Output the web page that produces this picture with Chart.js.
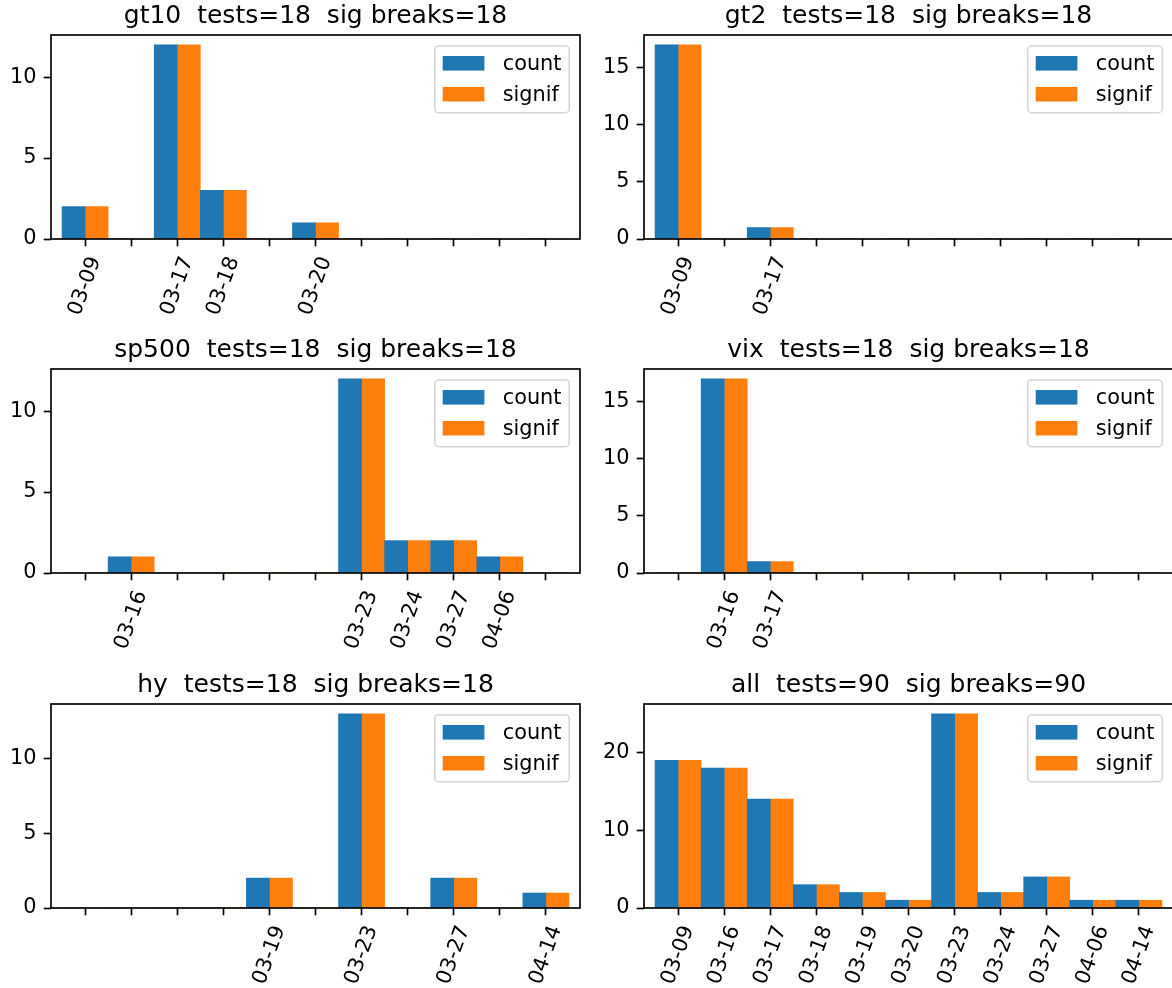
<!DOCTYPE html>
<html>
<head>
<meta charset="utf-8">
<script src="https://cdn.jsdelivr.net/npm/chart.js@4.4.0/dist/chart.umd.min.js"></script>
<style>
  html, body { margin: 0; padding: 0; background: #fff; }
  #fig { position: relative; width: 1172px; height: 988px; overflow: hidden; }
  #fig canvas { position: absolute; }
</style>
</head>
<body>
<div id="fig"></div>
<script>
// dates of the break tests (x categories)
const dates = ["03-09", "03-16", "03-17", "03-18", "03-19", "03-20", "03-23", "03-24", "03-27", "04-06", "04-14"];

const gt10Count   = [2, 0, 12, 3, 0, 1, 0, 0, 0, 0, 0];
const gt10Signif  = [2, 0, 12, 3, 0, 1, 0, 0, 0, 0, 0];
const gt2Count    = [17, 0, 1, 0, 0, 0, 0, 0, 0, 0, 0];
const gt2Signif   = [17, 0, 1, 0, 0, 0, 0, 0, 0, 0, 0];
const sp500Count  = [0, 1, 0, 0, 0, 0, 12, 2, 2, 1, 0];
const sp500Signif = [0, 1, 0, 0, 0, 0, 12, 2, 2, 1, 0];
const vixCount    = [0, 17, 1, 0, 0, 0, 0, 0, 0, 0, 0];
const vixSignif   = [0, 17, 1, 0, 0, 0, 0, 0, 0, 0, 0];
const hyCount     = [0, 0, 0, 0, 2, 0, 13, 0, 2, 0, 1];
const hySignif    = [0, 0, 0, 0, 2, 0, 13, 0, 2, 0, 1];
const allCount    = [19, 18, 14, 3, 2, 1, 25, 2, 4, 1, 1];
const allSignif   = [19, 18, 14, 3, 2, 1, 25, 2, 4, 1, 1];

const titles = [
  "gt10  tests=18  sig breaks=18",
  "gt2  tests=18  sig breaks=18",
  "sp500  tests=18  sig breaks=18",
  "vix  tests=18  sig breaks=18",
  "hy  tests=18  sig breaks=18",
  "all  tests=90  sig breaks=90"
];
const yTickSteps = [5, 5, 5, 5, 5, 10];

const BLUE = "#1f77b4";
const ORANGE = "#ff7f0e";
const FONT = "DejaVu Sans";

Chart.defaults.font.family = FONT;
Chart.defaults.color = "#000";

// axes frame, title and matplotlib-like legend
const framePlugin = {
  id: "frame",
  afterDraw(chart, args, opts) {
    const { ctx, chartArea: a } = chart;
    ctx.save();
    ctx.strokeStyle = "#000";
    ctx.lineWidth = 1.67;
    ctx.strokeRect(a.left, a.top, a.right - a.left, a.bottom - a.top);

    ctx.fillStyle = "#000";
    ctx.font = `25px "${FONT}"`;
    ctx.textAlign = "center";
    ctx.textBaseline = "alphabetic";
    ctx.fillText(opts.title, (a.left + a.right) / 2, a.top - 12.5);

    // legend box
    const bw = 134.6, bh = 66.7;
    const bx = a.right - 10.7 - bw, by = a.top + 11;
    ctx.beginPath();
    ctx.roundRect(bx, by, bw, bh, 4);
    ctx.fillStyle = "rgba(255,255,255,0.8)";
    ctx.fill();
    ctx.strokeStyle = "#d6d6d6";
    ctx.lineWidth = 1.6;
    ctx.stroke();

    ctx.font = `20.83px "${FONT}"`;
    ctx.textAlign = "left";
    ctx.textBaseline = "middle";
    chart.data.datasets.forEach((ds, k) => {
      const cy = by + 17.3 + k * 30.9;
      ctx.fillStyle = ds.backgroundColor;
      ctx.fillRect(bx + 8, cy - 7.3, 41.7, 14.6);
      ctx.fillStyle = "#000";
      ctx.fillText(ds.label, bx + 68, cy + 1);
    });
    ctx.restore();
  }
};

function makePanel(i, count, signif) {
  const col = i % 2, row = Math.floor(i / 2);
  const cv = document.createElement("canvas");
  cv.width = 590;
  cv.height = 330;
  cv.style.left = (col === 0 ? 0 : 593) + "px";
  cv.style.top = [0, 334, 669][row] + "px";
  cv.style.width = "590px";
  cv.style.height = "330px";
  document.getElementById("fig").appendChild(cv);

  const step = yTickSteps[i];
  const ymax = Math.max(...count, ...signif) * 1.05;

  new Chart(cv, {
    type: "bar",
    data: {
      datasets: [
        {
          label: "count",
          data: count.map((v, k) => ({ x: k, y: v })),
          backgroundColor: BLUE,
          categoryPercentage: 1,
          barPercentage: 1
        },
        {
          label: "signif",
          data: signif.map((v, k) => ({ x: k, y: v })),
          backgroundColor: ORANGE,
          categoryPercentage: 1,
          barPercentage: 1
        }
      ]
    },
    options: {
      responsive: false,
      animation: false,
      devicePixelRatio: 1,
      layout: { padding: { left: 0, top: 35, right: 10, bottom: 0 } },
      scales: {
        x: {
          type: "linear",
          min: -0.74,
          max: 10.74,
          offset: false,
          afterBuildTicks: s => { s.ticks = dates.map((d, k) => ({ value: k })); },
          afterFit: s => { s.height = 91; },
          border: { display: false },
          grid: { offset: false, drawOnChartArea: false, drawTicks: true, tickLength: 7.3, tickWidth: 1.67, tickColor: "#000" },
          ticks: {
            autoSkip: false,
            minRotation: 70,
            maxRotation: 70,
            padding: 7.2,
            labelOffset: 10.35,
            color: "#000",
            font: { size: 20.83 },
            callback: (v, k) => (count[k] > 0 ? dates[k] : "")
          }
        },
        y: {
          min: 0,
          max: ymax,
          afterBuildTicks: s => {
            s.ticks = s.ticks.filter(t => Math.abs(t.value / step - Math.round(t.value / step)) < 1e-9);
          },
          afterFit: s => { s.width = 51; },
          border: { display: false },
          grid: { drawOnChartArea: false, drawTicks: true, tickLength: 7.3, tickWidth: 1.67, tickColor: "#000" },
          ticks: {
            stepSize: step,
            includeBounds: false,
            autoSkip: false,
            padding: 7.3,
            color: "#000",
            font: { size: 20.83 }
          }
        }
      },
      plugins: {
        legend: { display: false },
        tooltip: { enabled: false },
        title: { display: false },
        frame: { title: titles[i] }
      }
    },
    plugins: [framePlugin]
  });
}

makePanel(0, gt10Count, gt10Signif);
makePanel(1, gt2Count, gt2Signif);
makePanel(2, sp500Count, sp500Signif);
makePanel(3, vixCount, vixSignif);
makePanel(4, hyCount, hySignif);
makePanel(5, allCount, allSignif);
</script>
</body>
</html>
